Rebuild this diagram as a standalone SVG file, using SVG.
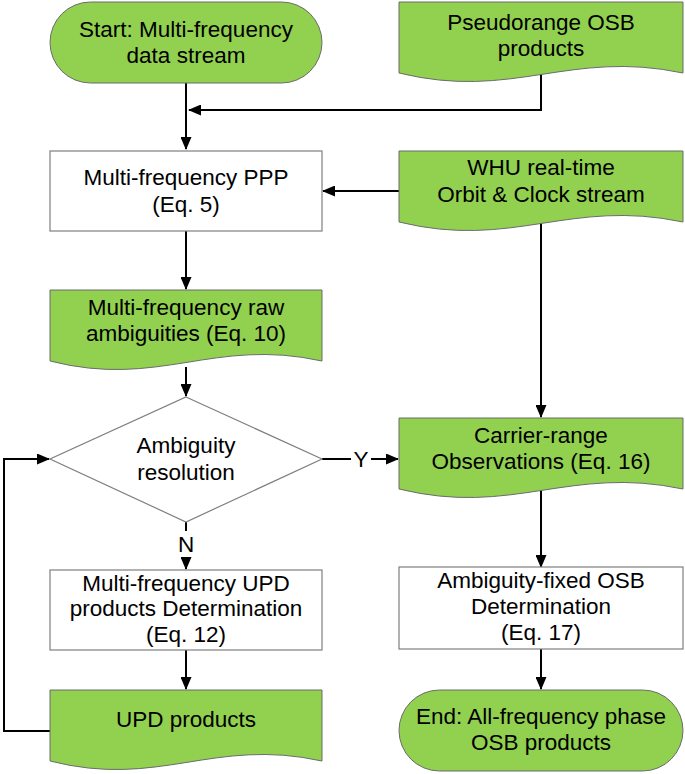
<svg xmlns="http://www.w3.org/2000/svg" width="685" height="774" viewBox="0 0 685 774">
<style>
.g{fill:#92D050;stroke:#6b6b6b;stroke-width:1}
.w{fill:#ffffff;stroke:#7f7f7f;stroke-width:1.2}
text{font-family:"Liberation Sans",Arial,sans-serif;font-size:22.5px;fill:#000;text-anchor:middle}
.c{fill:none;stroke:#000;stroke-width:2}
</style>
<defs>
<marker id="ah" markerUnits="userSpaceOnUse" markerWidth="13" markerHeight="11" viewBox="0 0 13 11" refX="12" refY="5.5" orient="auto">
<path d="M0,0 L13,5.5 L0,11 z" fill="#000"/>
</marker>
</defs>
<rect x="0" y="0" width="685" height="774" fill="#fff"/>
<g id="connectors">
<path class="c" d="M186,83 V149" marker-end="url(#ah)"/>
<path class="c" d="M541,72 V110 H189" marker-end="url(#ah)"/>
<path class="c" d="M399,191 H323" marker-end="url(#ah)"/>
<path class="c" d="M186,231 V289" marker-end="url(#ah)"/>
<path class="c" d="M186,367 V396" marker-end="url(#ah)"/>
<path class="c" d="M541,221 V417" marker-end="url(#ah)"/>
<path class="c" d="M322,459 H351"/>
<path class="c" d="M371,459 H398" marker-end="url(#ah)"/>
<path class="c" d="M186,522 V531"/>
<path class="c" d="M186,557 V569" marker-end="url(#ah)"/>
<path class="c" d="M541,488 V567" marker-end="url(#ah)"/>
<path class="c" d="M186,650 V689" marker-end="url(#ah)"/>
<path class="c" d="M541,649 V689" marker-end="url(#ah)"/>
<path class="c" d="M50,731 H4 V459 H49" marker-end="url(#ah)"/>
<text x="361" y="467">Y</text>
<text x="186" y="552">N</text>
</g>
<g id="start">
<rect class="g" x="50" y="2" width="272" height="81" rx="40.5" ry="40.5"/>
<text x="186" y="37">Start: Multi-frequency</text>
<text x="186" y="63">data stream</text>
</g>
<g id="pseudorange-osb">
<path class="g" d="M399,2 H683 V73 C569,49 513,101 399,73 Z"/>
<text x="541" y="30">Pseudorange OSB</text>
<text x="541" y="56">products</text>
</g>
<g id="ppp">
<rect class="w" x="50" y="151" width="272" height="80"/>
<text x="186" y="185">Multi-frequency PPP</text>
<text x="186" y="212">(Eq. 5)</text>
</g>
<g id="whu">
<path class="g" d="M399,151 H683 V222 C569,198 513,250 399,222 Z"/>
<text x="541" y="175">WHU real-time</text>
<text x="541" y="202">Orbit &amp; Clock stream</text>
</g>
<g id="raw-ambiguities">
<path class="g" d="M50,290 H322 V361 C213,337 159,389 50,361 Z"/>
<text x="186" y="315">Multi-frequency raw</text>
<text x="186" y="341">ambiguities (Eq. 10)</text>
</g>
<g id="ambiguity-resolution">
<path class="w" d="M186,397 L322,459 L186,522 L50,459 Z"/>
<text x="186" y="453">Ambiguity</text>
<text x="186" y="480">resolution</text>
</g>
<g id="carrier-range">
<path class="g" d="M399,418 H683 V489 C569,465 513,517 399,489 Z"/>
<text x="541" y="443">Carrier-range</text>
<text x="541" y="469">Observations (Eq. 16)</text>
</g>
<g id="upd-determination">
<rect class="w" x="50" y="570" width="272" height="80"/>
<text x="186" y="591">Multi-frequency UPD</text>
<text x="186" y="616">products Determination</text>
<text x="186" y="642">(Eq. 12)</text>
</g>
<g id="osb-determination">
<rect class="w" x="399" y="567" width="284" height="82"/>
<text x="541" y="588">Ambiguity-fixed OSB</text>
<text x="541" y="614">Determination</text>
<text x="541" y="640">(Eq. 17)</text>
</g>
<g id="upd-products">
<path class="g" d="M50,690 H322 V761 C213,737 159,789 50,761 Z"/>
<text x="186" y="727">UPD products</text>
</g>
<g id="end">
<rect class="g" x="399" y="690" width="284" height="81" rx="40.5" ry="40.5"/>
<text x="541" y="724">End: All-frequency phase</text>
<text x="541" y="750">OSB products</text>
</g>
</svg>
